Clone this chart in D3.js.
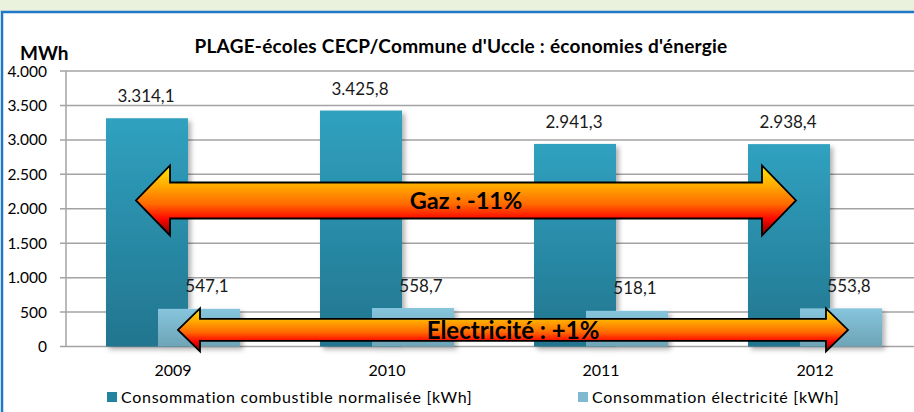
<!DOCTYPE html>
<html>
<head>
<meta charset="utf-8">
<script src="https://cdn.jsdelivr.net/npm/d3@7"></script>
<style>
  html, body { margin: 0; padding: 0; background: #fff; }
  svg { display: block; font-family: Lato, "Open Sans", sans-serif; }
</style>
</head>
<body>
<div id="main-container"></div>
<script>
// Data
const YEARS = ['2009', '2010', '2011', '2012'];
const GAS = [3314.1, 3425.8, 2941.3, 2938.4];          // MWh
const ELEC = [547.1, 558.7, 518.1, 553.8];             // MWh
const Y_TICKS = [0, 500, 1000, 1500, 2000, 2500, 3000, 3500, 4000];
const SERIES_NAMES = ['Consommation combustible normalisée [kWh]', 'Consommation électricité [kWh]'];
const TITLE = "PLAGE-écoles CECP/Commune d'Uccle : économies d'énergie";
const ARROW_LABELS = ['Gaz : -11%', 'Electricité : +1%'];

const W = 914, H = 412;
const PLOT = { left: 66, right: 922, top: 71, bottom: 346.5 };

const fmt = v => d3.format(',')(v).replace(/,/g, '.');
const fmtLabel = v => d3.format(',.1f')(v).replace('.', '#').replace(/,/g, '.').replace('#', ',');

const svg = d3.select('#main-container').append('svg')
    .attr('width', W)
    .attr('height', H);

const defs = svg.append('defs');

function vGrad(id, stops) {
    const g = defs.append('linearGradient').attr('id', id)
        .attr('x1', 0).attr('y1', 0).attr('x2', 0).attr('y2', 1);
    stops.forEach(([o, c]) => g.append('stop').attr('offset', o).attr('stop-color', c));
}
vGrad('gasGrad', [[0, '#30a1c0'], [1, '#22758e']]);
vGrad('elecGrad', [[0, '#86c5dd'], [1, '#6ea4b6']]);
vGrad('arrowGrad', [[0, '#ffe600'], [0.3, '#ffa800'], [0.55, '#ff6a00'], [0.76, '#ff0800'], [1, '#7a0000']]);

defs.append('filter').attr('id', 'shadow')
    .attr('x', '-10%').attr('y', '-10%').attr('width', '130%').attr('height', '130%')
    .append('feDropShadow')
    .attr('dx', 3).attr('dy', 3).attr('stdDeviation', 2.5)
    .attr('flood-color', '#000').attr('flood-opacity', 0.3);

// Frame
svg.append('rect').attr('width', W).attr('height', 12).attr('fill', '#eaf1dd');
svg.append('path')
    .attr('d', `M2,${H} V12 H${W}`)
    .attr('fill', 'none')
    .attr('stroke', '#1f78c8')
    .attr('stroke-width', 2.5);

// Scales
const x = d3.scaleBand()
    .domain(YEARS)
    .range([PLOT.left, PLOT.right])
    .paddingInner(80 / 214)
    .paddingOuter(40 / 214);

const y = d3.scaleLinear()
    .domain([0, 4000])
    .range([PLOT.bottom, PLOT.top]);

const barW = x.bandwidth() * 82 / 134;
const elecOff = x.bandwidth() - barW;

// Grid + axis
const grid = svg.append('g');
grid.selectAll('line')
    .data(Y_TICKS)
    .join('line')
    .attr('x1', PLOT.left - 6)
    .attr('x2', W)
    .attr('y1', d => y(d))
    .attr('y2', d => y(d))
    .attr('stroke', '#a3a3a3')
    .attr('stroke-width', 1.5);

svg.append('line')
    .attr('x1', PLOT.left).attr('x2', PLOT.left)
    .attr('y1', y(4000)).attr('y2', y(0))
    .attr('stroke', '#a3a3a3')
    .attr('stroke-width', 1.5);

svg.append('g').selectAll('text')
    .data(Y_TICKS)
    .join('text')
    .attr('x', 47)
    .attr('y', d => y(d) + 5.5)
    .attr('text-anchor', 'end')
    .style('font-size', '15.5px')
    .attr('fill', '#000')
    .text(fmt);

// Bars
const bars = svg.append('g').attr('filter', 'url(#shadow)');
bars.selectAll('.gas')
    .data(YEARS)
    .join('rect')
    .attr('class', 'gas')
    .attr('x', d => x(d))
    .attr('y', (d, i) => y(GAS[i]))
    .attr('width', barW)
    .attr('height', (d, i) => y(0) - y(GAS[i]))
    .attr('fill', 'url(#gasGrad)');

bars.selectAll('.elec')
    .data(YEARS)
    .join('rect')
    .attr('class', 'elec')
    .attr('x', d => x(d) + elecOff)
    .attr('y', (d, i) => y(ELEC[i]))
    .attr('width', barW)
    .attr('height', (d, i) => y(0) - y(ELEC[i]))
    .attr('fill', 'url(#elecGrad)');

// Data labels
svg.append('g').selectAll('text')
    .data(YEARS)
    .join('text')
    .attr('x', d => x(d) + barW / 2 - 1)
    .attr('y', (d, i) => y(GAS[i]) - 16)
    .attr('text-anchor', 'middle')
    .attr('fill', '#1a1a1a')
    .style('font-size', '17px')
    .text((d, i) => fmtLabel(GAS[i]));

svg.append('g').selectAll('text')
    .data(YEARS)
    .join('text')
    .attr('x', d => x(d) + elecOff + barW / 2 + 8)
    .attr('y', (d, i) => y(ELEC[i]) - 16.5)
    .attr('text-anchor', 'middle')
    .attr('fill', '#1a1a1a')
    .style('font-size', '17px')
    .text((d, i) => fmtLabel(ELEC[i]));

// X labels
svg.append('g').selectAll('text')
    .data(YEARS)
    .join('text')
    .attr('x', d => x(d) + x.bandwidth() / 2)
    .attr('y', 376)
    .attr('text-anchor', 'middle')
    .style('font-size', '16px')
    .text(d => d);

// Arrows
function arrow(x0, x1, cy, headH, shaftH, headL, label, fs) {
    const pts = [
        [x0, cy], [x0 + headL, cy - headH], [x0 + headL, cy - shaftH],
        [x1 - headL, cy - shaftH], [x1 - headL, cy - headH], [x1, cy],
        [x1 - headL, cy + headH], [x1 - headL, cy + shaftH],
        [x0 + headL, cy + shaftH], [x0 + headL, cy + headH]
    ];
    svg.append('path')
        .attr('d', d3.line()(pts) + 'Z')
        .attr('fill', 'url(#arrowGrad)')
        .attr('stroke', '#000')
        .attr('stroke-width', 1.8)
        .attr('stroke-linejoin', 'miter');
    svg.append('text')
        .attr('x', (x0 + x1) / 2)
        .attr('y', cy + fs * 0.36)
        .attr('text-anchor', 'middle')
        .style('font-size', fs + 'px')
        .style('font-weight', 'bold')
        .text(label);
}
arrow(136, 796, y(2120), 35, 18, 34, ARROW_LABELS[0], 23.5);
arrow(178, 848, y(240), 21.5, 11, 22, ARROW_LABELS[1], 24);

// Title
svg.append('text')
    .attr('x', 461)
    .attr('y', 53)
    .attr('text-anchor', 'middle')
    .style('font-size', '19px')
    .style('font-weight', 'bold')
    .style('letter-spacing', '0.25px')
    .text(TITLE);

svg.append('text')
    .attr('x', 20)
    .attr('y', 60)
    .style('font-size', '19px')
    .style('font-weight', 'bold')
    .text('MWh');

// Legend
const LEGEND_X = [107, 578];
const legend = svg.append('g').selectAll('g')
    .data(SERIES_NAMES)
    .join('g')
    .attr('transform', (d, i) => `translate(${LEGEND_X[i]}, 392)`);
legend.append('rect')
    .attr('width', 10).attr('height', 10)
    .attr('fill', (d, i) => i === 0 ? '#24839f' : '#80bad0');
legend.append('text')
    .attr('x', 14)
    .attr('y', 11)
    .style('font-size', '16px')
    .style('letter-spacing', '0.7px')
    .text(d => d);
</script>
</body>
</html>
